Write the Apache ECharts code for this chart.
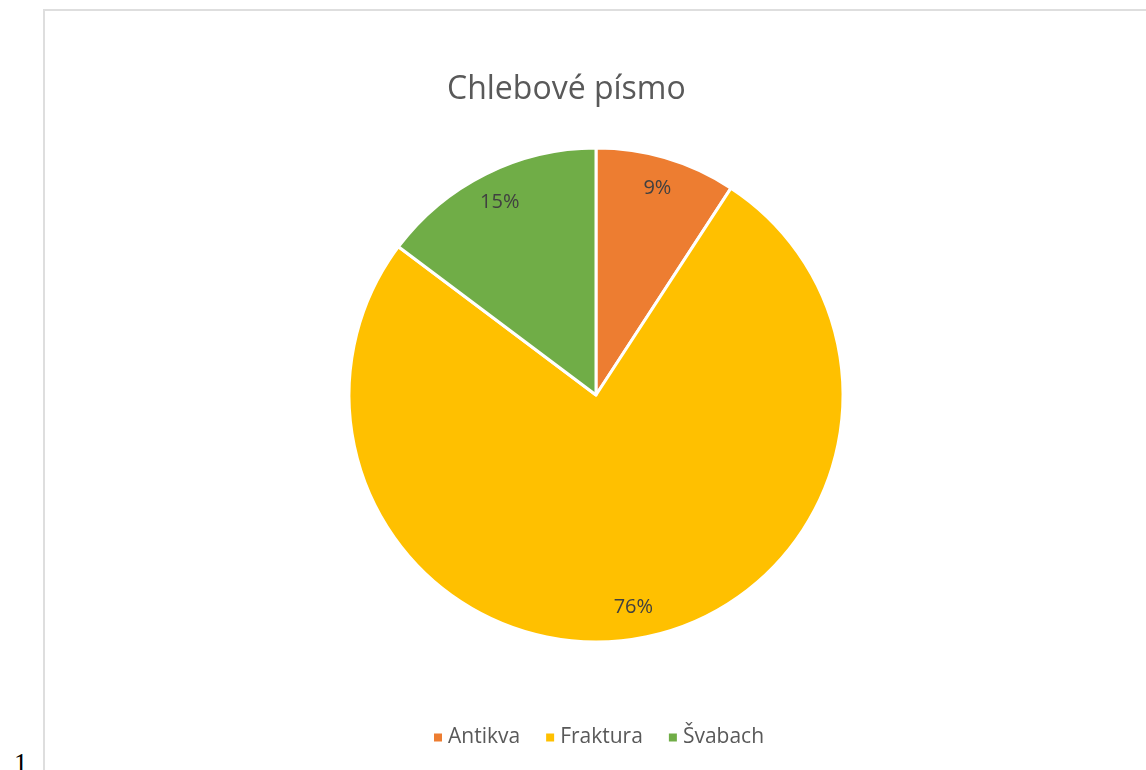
<!DOCTYPE html>
<html>
<head>
<meta charset="utf-8">
<script src="https://cdn.jsdelivr.net/npm/echarts@6/dist/echarts.min.js"></script>
<style>
  html, body { margin: 0; padding: 0; background: #fff; overflow: hidden; }
  #chart {
    position: absolute; left: 43px; top: 9px;
    width: 1102px; height: 760px;
    border-left: 2px solid #dedede; border-top: 2px solid #dedede;
  }
  #pageNo {
    position: absolute; left: 14px; top: 748px;
    font-family: "Liberation Serif", serif; font-size: 27px; color: #000;
  }
</style>
</head>
<body>
<div id="pageNo">1</div>
<div id="chart"></div>
<script>
const categories = ['Antikva', 'Fraktura', 'Švabach']
const shares = [9.2, 76.05, 14.75]
const colors = ['#ED7D31', '#FFC000', '#70AD47']

const pieData = categories.map((name, i) => ({ name: name, value: shares[i] }))

const chart = echarts.init(document.getElementById('chart'))
const center = [551, 384]
const R = 247

chart.setOption({
  animation: false,
  color: colors,
  title: {
    text: 'Chlebové písmo',
    left: 397,
    top: 58,
    textStyle: {
      fontFamily: 'Open Sans',
      fontWeight: 'normal',
      fontSize: 32,
      color: '#595959'
    }
  },
  legend: {
    data: categories,
    left: 382,
    top: 711,
    icon: 'rect',
    itemWidth: 10,
    itemHeight: 10,
    itemGap: 24,
    textStyle: {
      fontFamily: 'Open Sans',
      fontSize: 21,
      color: '#595959'
    }
  },
  series: [
    {
      type: 'pie',
      center: center,
      radius: [0, R],
      startAngle: 90,
      clockwise: true,
      label: { show: false },
      labelLine: { show: false },
      itemStyle: { borderColor: '#fff', borderWidth: 3 },
      emphasis: { disabled: true },
      data: pieData
    },
    {
      // transparent ring used only to place the data labels
      type: 'pie',
      center: center,
      radius: [R * 0.72, R],
      startAngle: 90,
      clockwise: true,
      silent: true,
      itemStyle: { color: 'transparent', borderWidth: 0 },
      label: {
        show: true,
        position: 'inside',
        fontFamily: 'Open Sans',
        fontSize: 20,
        color: '#404040',
        formatter: p => Math.round(p.percent) + '%'
      },
      labelLine: { show: false },
      emphasis: { disabled: true },
      data: pieData
    }
  ]
})
</script>
</body>
</html>
